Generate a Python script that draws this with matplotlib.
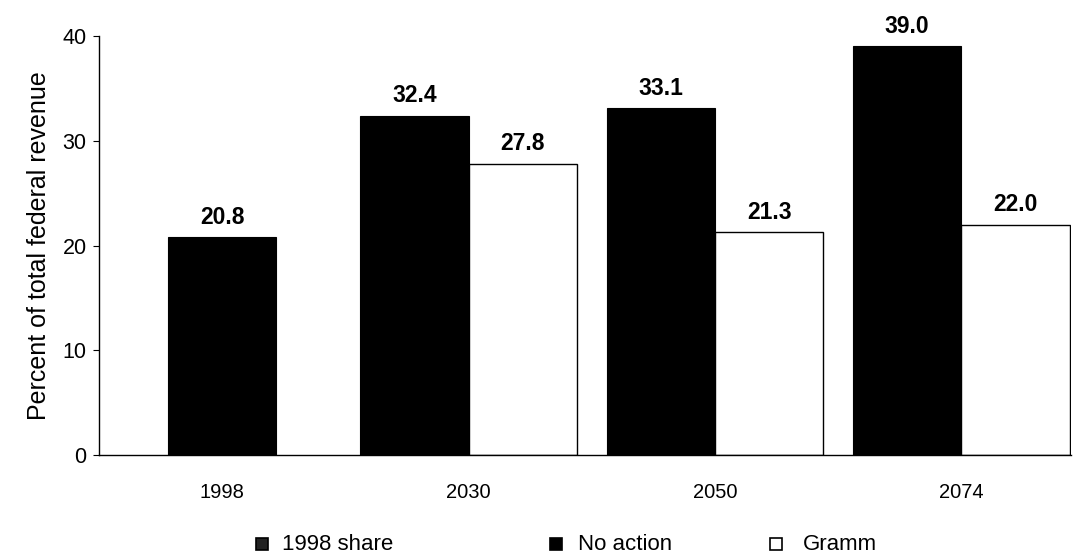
import numpy as np
import matplotlib
matplotlib.use("Agg")
import matplotlib.pyplot as plt
from matplotlib.patches import Rectangle

plt.rcParams['font.family'] = ['Liberation Sans', 'DejaVu Sans']

years = ["1998", "2030", "2050", "2074"]
share_1998 = [20.8]
no_action = [32.4, 33.1, 39.0]
gramm = [27.8, 21.3, 22.0]

fig = plt.figure(figsize=(10.81, 5.59), dpi=100)
ax = fig.add_axes([0.0916, 0.186, 0.8991, 0.7496])

w = 0.44
x = np.arange(len(years))

# 1998 share, single bar centred on its slot
b0 = ax.bar(x[:1], share_1998, w, color="black", edgecolor="black", linewidth=0.8)
# later years: black and white pair
b1 = ax.bar(x[1:] - w / 2, no_action, w, color="black", edgecolor="black", linewidth=0.8)
b2 = ax.bar(x[1:] + w / 2, gramm, w, color="white", edgecolor="black", linewidth=1.0)

for bars in (b0, b1, b2):
    for r in bars:
        ax.annotate(f"{r.get_height():.1f}", (r.get_x() + r.get_width() / 2, r.get_height()),
                    xytext=(0, 6), textcoords="offset points", ha="center", va="bottom",
                    fontsize=16.5, fontweight="bold")

ax.set_xlim(-0.5, 3.445)
ax.set_ylim(0, 40)
ax.set_yticks([0, 10, 20, 30, 40])
ax.set_xticks(x)
ax.set_xticklabels(years)
ax.tick_params(axis="x", length=0, pad=20, labelsize=14.5)
ax.tick_params(axis="y", length=4, width=0.8, pad=5, labelsize=15.5)
ax.spines["top"].set_visible(False)
ax.spines["right"].set_visible(False)
ax.spines["left"].set_linewidth(1.0)
ax.spines["bottom"].set_linewidth(1.0)
ax.set_ylabel("Percent of total federal revenue", fontsize=18, labelpad=8)

# legend along the bottom
items = [("1998 share", "#222222", 262, 282),
         ("No action", "black", 556, 578),
         ("Gramm", "white", 776, 803)]
W, H = 1081, 559
for label, col, mx, tx in items:
    s = 12
    fig.patches.append(Rectangle(((mx - s / 2) / W, (H - 544 - s / 2) / H), s / W, s / H,
                                 facecolor=col, edgecolor="black", linewidth=1.2,
                                 transform=fig.transFigure, figure=fig))
    fig.text(tx / W, (H - 545) / H, label, fontsize=16, va="center", ha="left")

fig.savefig("out.png", dpi=100)
